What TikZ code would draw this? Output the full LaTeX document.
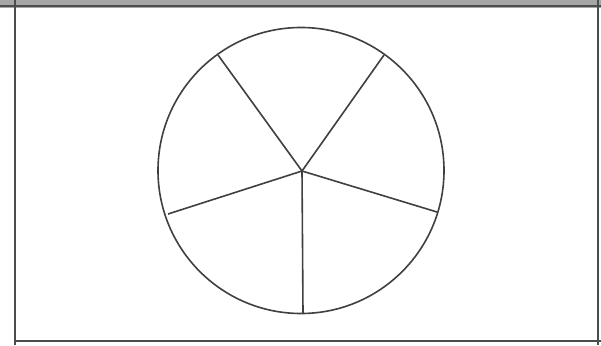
\documentclass[tikz,border=0pt]{standalone}
\begin{document}
\begin{tikzpicture}[x=1pt,y=-1pt,
  frame/.style={draw=black!70,line width=2.5pt},
  pie/.style={draw=black!75,line width=1.6pt}]
\useasboundingbox (0,0) rectangle (601,345);
\fill[white] (0,0) rectangle (601,345);
\fill[black!35] (0,0) rectangle (601,8);
\draw[frame] (0,6) -- (601,6);
\draw[frame] (15,0) -- (15,345);
\draw[frame] (598,0) -- (598,345);
\draw[frame] (15,341) -- (601,341);
\coordinate (c) at (302,171);
\draw[pie] (301,170.5) circle[radius=143];
\coordinate (p1) at (218,55);
\coordinate (p2) at (384,55);
\coordinate (p3) at (437,212);
\coordinate (p4) at (303,313);
\coordinate (p5) at (168,214);
\foreach \p in {p1,p2,p3,p4,p5} \draw[pie] (c) -- (\p);
\end{tikzpicture}
\end{document}
